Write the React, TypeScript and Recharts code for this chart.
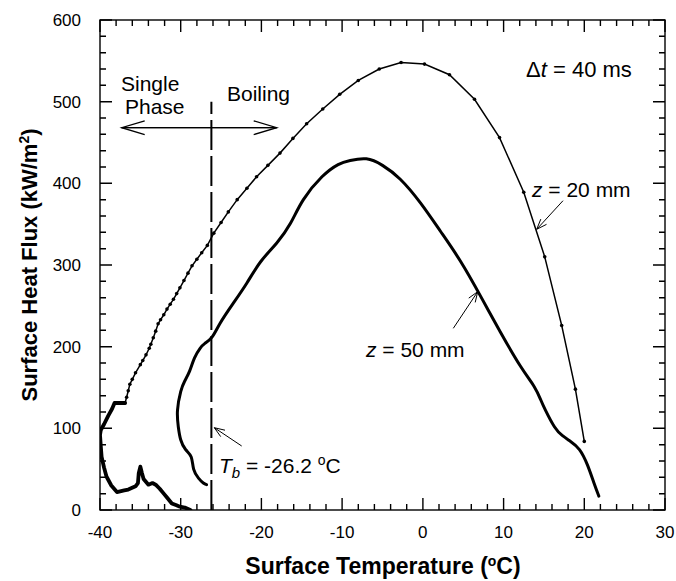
import React from "react";
import { ComposedChart, Line, XAxis, YAxis, ReferenceLine } from "recharts";

// tick marks (minor every 2 °C / 20 kW/m2), labels on the majors
const tempTicks = [-40, -38, -36, -34, -32, -30, -28, -26, -24, -22, -20, -18, -16, -14, -12, -10, -8, -6, -4, -2, 0, 2, 4, 6, 8, 10, 12, 14, 16, 18, 20, 22, 24, 26, 28, 30];
const tempLabels = [-40, -30, -20, -10, 0, 10, 20, 30];
const fluxTicks = [0, 20, 40, 60, 80, 100, 120, 140, 160, 180, 200, 220, 240, 260, 280, 300, 320, 340, 360, 380, 400, 420, 440, 460, 480, 500, 520, 540, 560, 580, 600];
const fluxLabels = [0, 100, 200, 300, 400, 500, 600];

// z = 20 mm, sampled points (dots), in time order
const z20Temp = [20.0, 18.9, 17.2, 15.1, 12.5, 9.5, 6.4, 3.3, 0.2, -2.7, -5.4, -8.0, -10.3, -12.4, -14.4, -16.1, -17.7, -19.2, -20.6, -21.8, -23.0, -24.1, -25.0, -25.9, -26.7, -27.4, -28.0, -28.6, -29.1, -29.6, -30.1, -30.5, -30.9, -31.3, -31.7, -32.1, -32.5, -32.8, -33.1, -33.4, -33.7, -33.9, -34.3, -34.7, -35.0, -35.6, -36.0, -36.3, -36.5, -36.7, -36.9];
const z20Flux = [84, 148, 226, 310, 389, 456, 503, 533, 546, 548, 540, 526, 509, 491, 473, 455, 437, 422, 408, 394, 380, 365, 352, 339, 324, 315, 307, 299, 290, 281, 272, 265, 258, 252, 246, 239, 233, 228, 219, 211, 203, 198, 190, 183, 178, 168, 160, 154, 146, 138, 131];

// z = 20 mm, late (dense) part of the record
const z20TailTemp = [-36.9, -37.5, -38.2, -38.5, -39.0, -39.5, -39.9, -40.0, -39.9, -39.8, -39.5, -39.2, -38.6, -37.9, -37.0, -36.5, -35.6, -35.3, -35.2, -35.0, -34.8, -34.6, -34.0, -33.5, -33.1, -32.6, -32.1, -31.6, -31.1, -30.6, -30.1, -29.5, -28.8];
const z20TailFlux = [131, 131, 131, 124, 115, 105, 98, 92, 78, 65, 52, 41, 30, 22, 24, 25, 29, 33, 45, 53, 45, 38, 31, 33, 31, 26, 20, 14, 8, 6, 4, 3, 0];

// z = 50 mm
const z50Temp = [21.8, 21.2, 20.4, 19.4, 18.3, 17.3, 16.3, 15.2, 14.6, 13.8, 12.1, 9.6, 7.2, 4.7, 2.2, -0.3, -2.8, -5.0, -7.0, -9.0, -10.5, -12.5, -14.8, -16.4, -18.1, -20.1, -21.8, -23.5, -25.1, -26.1, -27.0, -27.6, -28.3, -28.9, -29.5, -30.0, -30.4, -30.3, -30.0, -29.4, -28.7, -28.4, -27.8, -27.2, -26.8];
const z50Flux = [17, 33, 55, 74, 84, 91, 102, 122, 135, 151, 176, 218, 261, 304, 341, 376, 405, 422, 430, 428, 423, 408, 380, 351, 327, 304, 278, 253, 229, 212, 204, 198, 186, 170, 158, 145, 122, 102, 86, 74, 65, 50, 39, 33, 31];

const z20Data = z20Temp.map((t, i) => ({ t, q: z20Flux[i] }));
const z20TailData = z20TailTemp.map((t, i) => ({ t, q: z20TailFlux[i] }));
const z50Data = z50Temp.map((t, i) => ({ t, q: z50Flux[i] }));

const FONT = '"Liberation Sans", Arial, Helvetica, sans-serif';

// plot box (must match the chart margins / axis sizes below)
const PL = 100, PT = 20, PR = 665, PB = 510;
const px = (t: number) => PL + ((t + 40) / 70) * (PR - PL);
const py = (q: number) => PB - (q / 600) * (PB - PT);

function BottomTick(props: any) {
  const { x, y, payload } = props;
  if (!tempLabels.includes(payload.value)) return <g />;
  return (
    <text x={x} y={y + 28} textAnchor="middle" fontSize={17} fontFamily={FONT} fill="#000">
      {payload.value}
    </text>
  );
}

function LeftTick(props: any) {
  const { x, y, payload } = props;
  if (!fluxLabels.includes(payload.value)) return <g />;
  return (
    <text x={x - 19} y={y + 6} textAnchor="end" fontSize={17} fontFamily={FONT} fill="#000">
      {payload.value}
    </text>
  );
}

// thin arrow with an open head at (x2, y2)
function Arrow({ x1, y1, x2, y2, len = 11, spread = 0.36, width = 1 }: any) {
  const a = Math.atan2(y1 - y2, x1 - x2);
  const h1 = [x2 + len * Math.cos(a + spread), y2 + len * Math.sin(a + spread)];
  const h2 = [x2 + len * Math.cos(a - spread), y2 + len * Math.sin(a - spread)];
  return (
    <g stroke="#000" strokeWidth={width} fill="none">
      <line x1={x1} y1={y1} x2={x2} y2={y2} />
      <polyline points={`${h1[0]},${h1[1]} ${x2},${y2} ${h2[0]},${h2[1]}`} />
    </g>
  );
}

// inward tick marks on all four sides, as one path
function tickPath() {
  let d = "";
  tempTicks.forEach((v) => {
    const len = tempLabels.includes(v) ? 12 : 6;
    const x = px(v).toFixed(1);
    d += `M${x},${PB}L${x},${PB - len}M${x},${PT}L${x},${PT + len}`;
  });
  fluxTicks.forEach((v) => {
    const len = fluxLabels.includes(v) ? 12 : 6;
    const y = py(v).toFixed(1);
    d += `M${PL},${y}L${PL + len},${y}M${PR},${y}L${PR - len},${y}`;
  });
  return d;
}

export default function App() {
  return (
    <div style={{ position: "absolute", left: 0, top: 0, width: 676, height: 581, background: "#fff" }}>
      <ComposedChart width={676} height={581} margin={{ top: 20, right: 11, bottom: 0, left: 0 }}>
        <XAxis
          dataKey="t"
          type="number"
          domain={[-40, 30]}
          allowDataOverflow
          ticks={tempTicks}
          interval={0}
          height={71}
          tickSize={0}
          tickMargin={0}
          tickLine={false}
          tick={BottomTick}
          axisLine={false}
        />
        <YAxis
          type="number"
          domain={[0, 600]}
          allowDataOverflow
          ticks={fluxTicks}
          interval={0}
          width={100}
          tickSize={0}
          tickMargin={0}
          tickLine={false}
          tick={LeftTick}
          axisLine={false}
        />
        <ReferenceLine
          segment={[{ x: -26.2, y: 0 }, { x: -26.2, y: 500 }]}
          stroke="#000"
          strokeWidth={2}
          strokeDasharray="30 6"
        />
        <Line
          data={z50Data}
          dataKey="q"
          type="natural"
          stroke="#000"
          strokeWidth={3}
          strokeLinejoin="round"
          strokeLinecap="round"
          dot={false}
          isAnimationActive={false}
        />
        <Line
          data={z20TailData}
          dataKey="q"
          type="linear"
          stroke="#000"
          strokeWidth={3.8}
          strokeLinejoin="round"
          strokeLinecap="round"
          dot={false}
          isAnimationActive={false}
        />
        <Line
          data={z20Data}
          dataKey="q"
          type="linear"
          stroke="#000"
          strokeWidth={1.5}
          dot={{ r: 1.8, fill: "#000", stroke: "none" }}
          isAnimationActive={false}
        />
      </ComposedChart>

      <svg
        width={676}
        height={581}
        style={{ position: "absolute", left: 0, top: 0, pointerEvents: "none" }}
        fontFamily={FONT}
      >
        {/* frame and tick marks */}
        <rect x={PL} y={PT} width={PR - PL} height={PB - PT} fill="none" stroke="#000" strokeWidth={1.4} />
        <path d={tickPath()} fill="none" stroke="#000" strokeWidth={1.4} />

        <text x={30} y={265} transform="rotate(-90 30 265)" textAnchor="middle" fontSize={22} fontWeight="bold" dy={7}>
          Surface Heat Flux (kW/m<tspan dy={-8} fontSize={14}>2</tspan>
          <tspan dy={8}>)</tspan>
        </text>
        <text x={383} y={574} textAnchor="middle" fontSize={23} fontWeight="bold">
          Surface Temperature (<tspan dy={-8} fontSize={14}>o</tspan>
          <tspan dy={8}>C)</tspan>
        </text>

        <text x={526} y={77} fontSize={22}>
          Δ<tspan fontStyle="italic">t</tspan> = 40 ms
        </text>
        <text x={121} y={91} fontSize={21}>Single</text>
        <text x={125} y={114} fontSize={21}>Phase</text>
        <text x={227} y={101} fontSize={21}>Boiling</text>
        <Arrow x1={276.7} y1={127.7} x2={121.7} y2={127.7} len={24} spread={0.29} width={1.3} />
        <Arrow x1={121.7} y1={127.7} x2={276.7} y2={127.7} len={24} spread={0.29} width={1.3} />

        <text x={532} y={197} fontSize={21}>
          <tspan fontStyle="italic">z</tspan> = 20 mm
        </text>
        <Arrow x1={563} y1={200.7} x2={536.7} y2={229.3} />

        <text x={366} y={357} fontSize={21}>
          <tspan fontStyle="italic">z</tspan> = 50 mm
        </text>
        <Arrow x1={453.3} y1={328.3} x2={477.7} y2={291.7} />

        <text x={219} y={473} fontSize={21}>
          <tspan fontStyle="italic">T</tspan>
          <tspan fontStyle="italic" fontSize={15} dy={5}>b</tspan>
          <tspan dy={-5}> = -26.2 </tspan>
          <tspan dy={-8} fontSize={14}>o</tspan>
          <tspan dy={8}>C</tspan>
        </text>
        <Arrow x1={241.7} y1={446} x2={214.3} y2={427.7} />
      </svg>
    </div>
  );
}
